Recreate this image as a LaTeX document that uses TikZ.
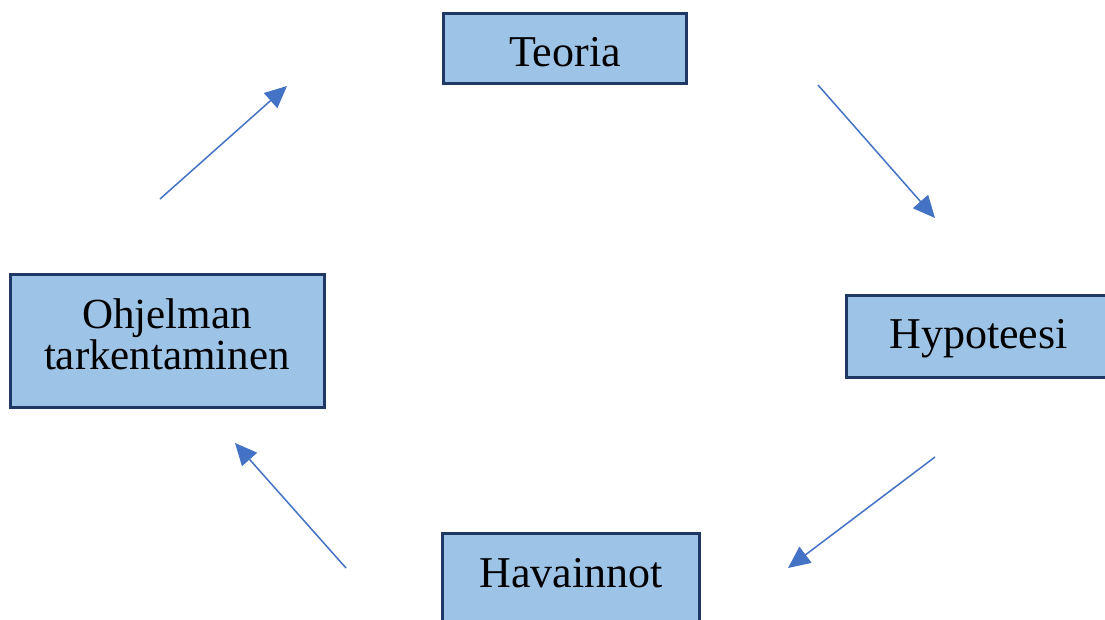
\documentclass[tikz,border=0pt]{standalone}
\usepackage{fontspec}
\setmainfont{Liberation Serif}
\usetikzlibrary{arrows.meta}
\definecolor{boxfill}{HTML}{9DC3E6}
\definecolor{boxline}{HTML}{1F3864}
\definecolor{arrowblue}{HTML}{4472C4}
\begin{document}
\begin{tikzpicture}[x=1pt,y=-1pt,
  box/.style={draw=boxline, fill=boxfill, line width=3pt, inner sep=0pt,
    font=\fontsize{44}{41}\selectfont, align=center},
  flow/.style={draw=arrowblue, line width=1.5pt,
    -{Triangle[length=22pt,width=20pt]}}]
\useasboundingbox (0,0) rectangle (1105,619);
\clip (0,0) rectangle (1105,619);
\fill[white] (0,0) rectangle (1105,619);

\node[box, minimum width=243pt, minimum height=70pt, text height=36pt, text depth=0pt]
  (teoria) at (565,48.5) {Teoria};
\node[box, minimum width=271pt, minimum height=82pt, text height=30pt, text depth=7pt, anchor=west]
  (hyp) at (844.5,336.5) {\hspace*{0pt}Hypoteesi\hspace*{6pt}};
\node[box, minimum width=257pt, minimum height=97pt, text height=30pt, text depth=20pt]
  (hav) at (571,582) {Havainnot};
\node[box, minimum width=314pt, minimum height=133pt, font=\fontsize{43}{41}\selectfont]
  (ohj) at (167,341) {Ohjelman\\tarkentaminen\rule[-14pt]{0pt}{0pt}};

\coordinate (a1s) at (160,199);
\coordinate (a1e) at (287,86);
\coordinate (a2s) at (818,85);
\coordinate (a2e) at (935,218);
\coordinate (a3s) at (935,457);
\coordinate (a3e) at (788,568);
\coordinate (a4s) at (346,568);
\coordinate (a4e) at (235,443);

\draw[flow] (a1s) -- (a1e);
\draw[flow] (a2s) -- (a2e);
\draw[flow] (a3s) -- (a3e);
\draw[flow] (a4s) -- (a4e);
\end{tikzpicture}
\end{document}
